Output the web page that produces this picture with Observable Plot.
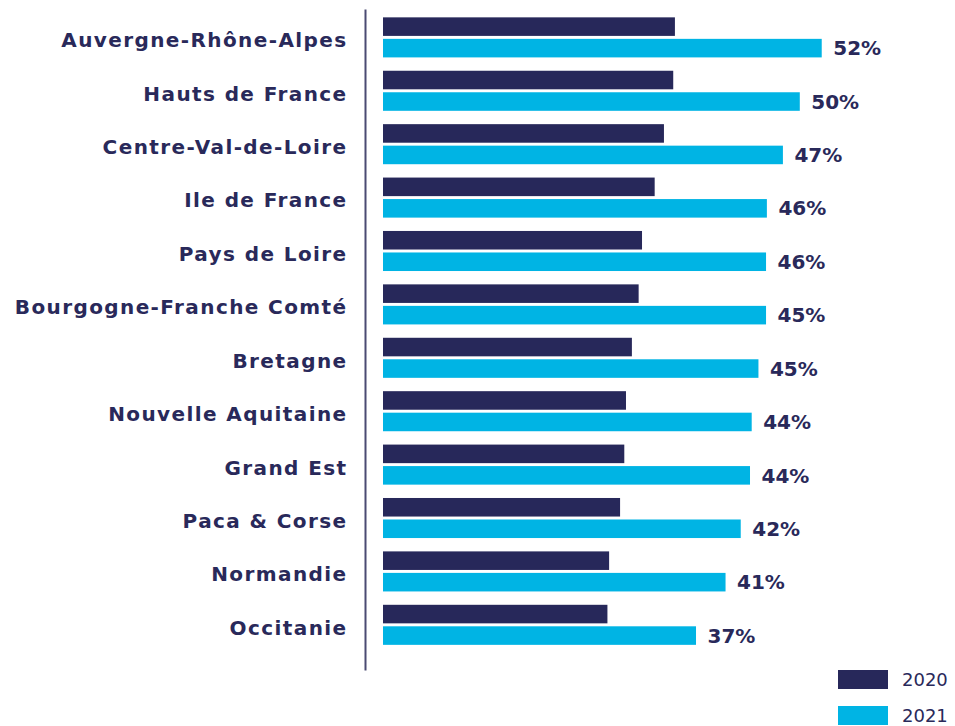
<!DOCTYPE html>
<html>
<head>
<meta charset="utf-8">
<script src="https://cdn.jsdelivr.net/npm/d3@7"></script>
<script src="https://cdn.jsdelivr.net/npm/@observablehq/plot@0.6"></script>
<style>
  html, body { margin: 0; padding: 0; background: #ffffff; }
  #wrap { position: relative; width: 955px; height: 726px; overflow: hidden; }
  #legend { position: absolute; left: 838px; top: 669px; font-family: "DejaVu Sans", sans-serif; font-size: 18px; color: #29295a; }
  .item { position: absolute; left: 0; display: flex; align-items: center; white-space: nowrap; }
  .sw { width: 50px; height: 19px; margin-right: 14px; }
</style>
</head>
<body>
<div id="wrap"></div>
<script>
const regions = ["Auvergne-Rhône-Alpes", "Hauts de France", "Centre-Val-de-Loire", "Ile de France",
  "Pays de Loire", "Bourgogne-Franche Comté", "Bretagne", "Nouvelle Aquitaine", "Grand Est",
  "Paca & Corse", "Normandie", "Occitanie"];
const values2020 = [34.6, 34.4, 33.3, 32.2, 30.7, 30.3, 29.5, 28.8, 28.6, 28.1, 26.8, 26.6];
const values2021 = [52.0, 49.4, 47.4, 45.5, 45.4, 45.4, 44.5, 43.7, 43.5, 42.4, 40.6, 37.1];
const labels2021 = ["52%", "50%", "47%", "46%", "46%", "45%", "45%", "44%", "44%", "42%", "41%", "37%"];
const years = ["2020", "2021"];

const navy = "#27285a";
const cyan = "#00b4e4";
const textColor = "#29295a";

const rows = regions.map((r, i) => ({region: r, v2020: values2020[i], v2021: values2021[i], label: labels2021[i]}));

const chart = Plot.plot({
  width: 955,
  height: 726,
  marginLeft: 365,
  marginRight: 10,
  marginTop: 10,
  marginBottom: 57,
  style: {background: "#ffffff", fontFamily: "DejaVu Sans, sans-serif"},
  x: {domain: [0, 60], range: [383, 383 + 60 * 8.437], axis: null},
  y: {domain: regions, range: [4, 658.2], padding: 0.25, round: false, label: null},
  marks: [
    Plot.barX(rows, {y: "region", x: "v2020", fill: navy, insetBottom: 21.5}),
    Plot.barX(rows, {y: "region", x: "v2021", fill: cyan, insetTop: 21.5}),
    Plot.text(rows, {y: "region", x: "v2021", text: "label", textAnchor: "start", dx: 11, dy: 11,
      fill: textColor, fontSize: 20, fontWeight: "bold"}),
    Plot.axisY({tickSize: 0, tickPadding: 18, fontSize: 20, fontWeight: "bold", fill: textColor,
      dy: 3, label: null}),
    Plot.frame({anchor: "left", stroke: "#4b4b72", strokeWidth: 2})
  ]
});
document.getElementById("wrap").appendChild(chart);
chart.querySelectorAll("g[aria-label='y-axis tick label'] text").forEach(t => t.style.letterSpacing = "1.4px");

const legend = document.createElement("div");
legend.id = "legend";
const colors = [navy, cyan];
years.forEach((y, i) => {
  const item = document.createElement("div");
  item.className = "item";
  item.style.top = (i * 36) + "px";
  const sw = document.createElement("div");
  sw.className = "sw";
  sw.style.background = colors[i];
  const lab = document.createElement("span");
  lab.textContent = y;
  item.appendChild(sw);
  item.appendChild(lab);
  legend.appendChild(item);
});
document.getElementById("wrap").appendChild(legend);
</script>
</body>
</html>
